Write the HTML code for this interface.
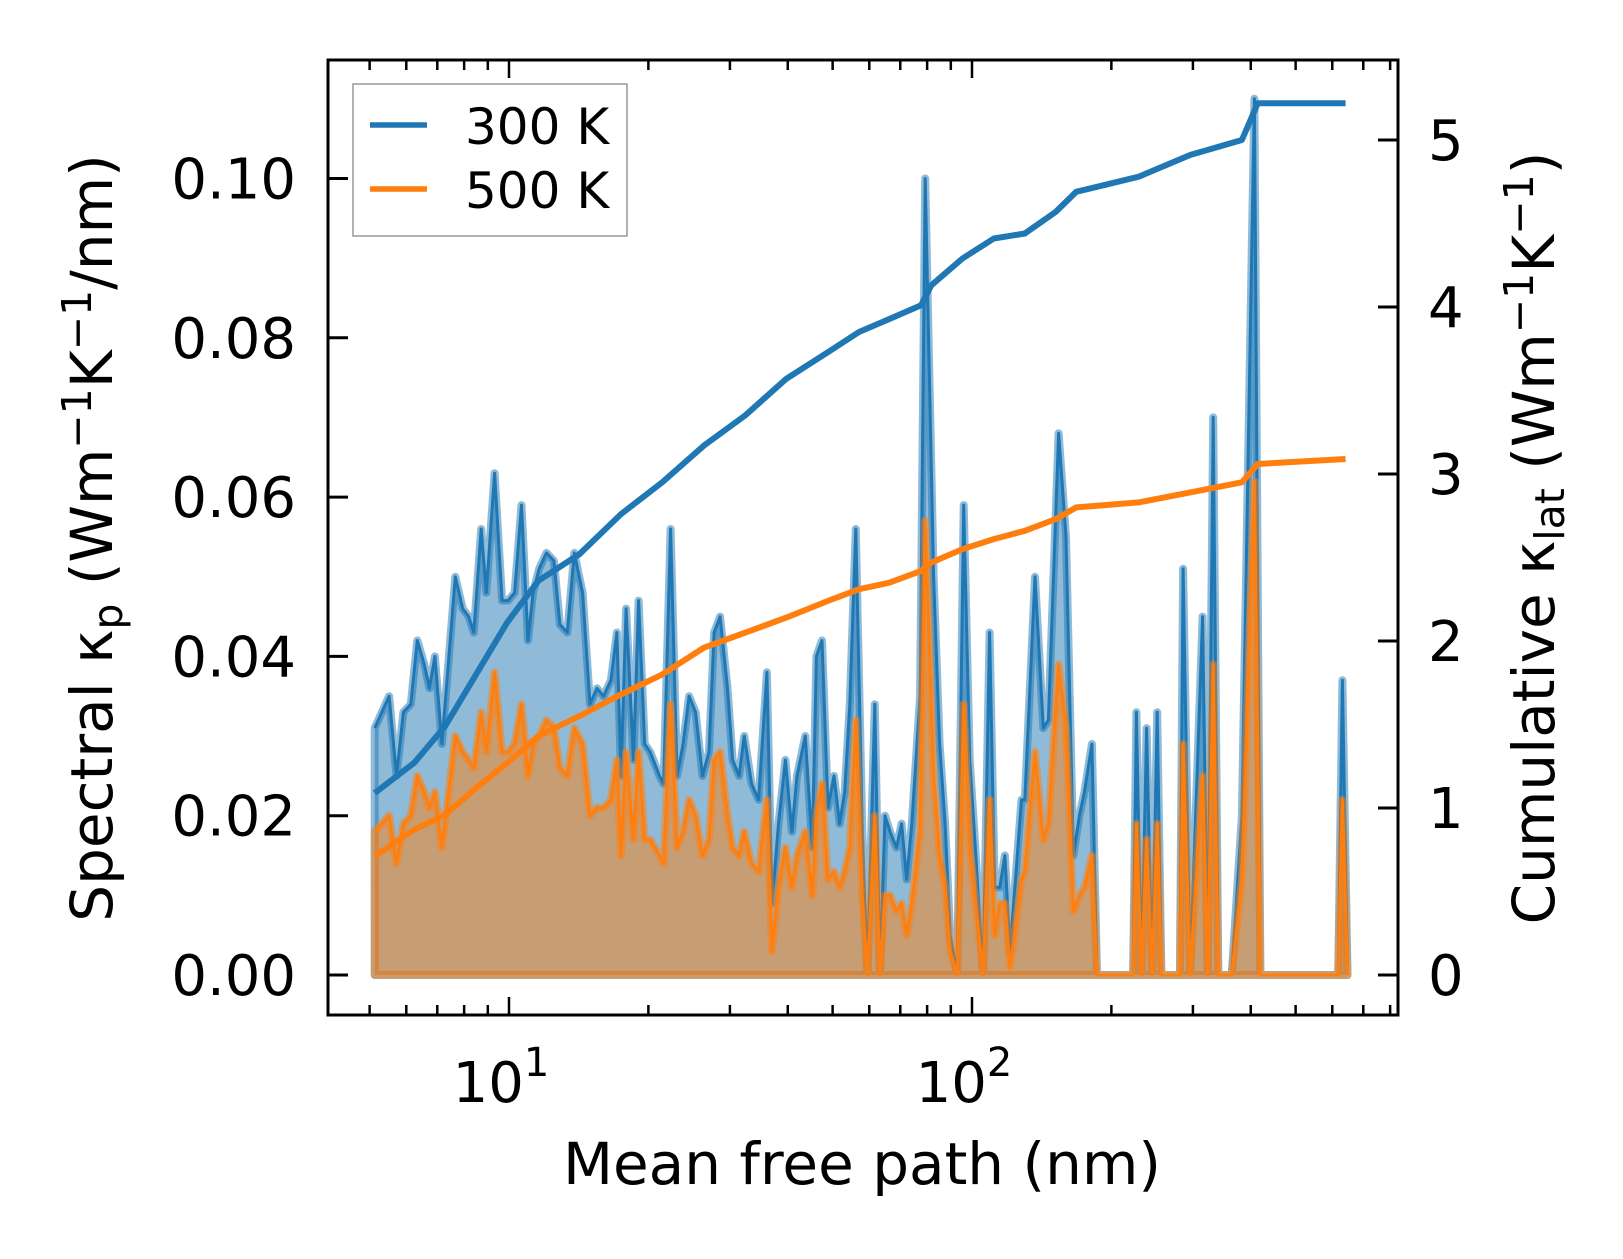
<!DOCTYPE html>
<html><head><meta charset="utf-8"><style>
html,body{margin:0;padding:0;background:#fff}
svg text{font-family:"DejaVu Sans","Liberation Sans",sans-serif;fill:#000}
</style></head><body>
<svg id="chart" width="1623" height="1254" viewBox="0 0 1623 1254" xmlns="http://www.w3.org/2000/svg">
<rect width="1623" height="1254" fill="#fff"/>
<g id="plot"></g>
<g id="axes"></g>
<g>
<rect x="353" y="84" width="274" height="152" fill="#fff" stroke="#999" stroke-width="1.5"/>
<line x1="370" y1="125" x2="427" y2="125" stroke="#1f77b4" stroke-width="5.5"/>
<text x="465" y="144" font-size="50">300 K</text>
<line x1="370" y1="189" x2="427" y2="189" stroke="#ff7f0e" stroke-width="5.5"/>
<text x="465" y="208" font-size="50">500 K</text>
</g>
<text x="862" y="1184" font-size="58" text-anchor="middle">Mean free path (nm)</text>
<text transform="translate(112,538) rotate(-90)" font-size="58" text-anchor="middle">Spectral κ<tspan font-size="41" dy="10">p</tspan><tspan dy="-10"> (Wm</tspan><tspan font-size="41" dy="-21">−1</tspan><tspan dy="21">K</tspan><tspan font-size="41" dy="-21">−1</tspan><tspan dy="21">/nm)</tspan></text>
<text transform="translate(1554,538) rotate(-90)" font-size="58" text-anchor="middle">Cumulative κ<tspan font-size="41" dy="10">lat</tspan><tspan dy="-10"> (Wm</tspan><tspan font-size="41" dy="-21">−1</tspan><tspan dy="21">K</tspan><tspan font-size="41" dy="-21">−1</tspan><tspan dy="21">)</tspan></text>
</svg>
<script>
// log10 of mean free path (nm) for spectral samples
const specLogMfp = [0.710,0.741,0.757,0.772,0.788,0.802,0.817,0.828,0.840,0.855,0.884,0.900,0.913,0.924,0.940,0.951,0.969,0.985,0.998,1.012,1.027,1.041,1.052,1.065,1.081,1.097,1.110,1.126,1.141,1.159,1.175,1.190,1.204,1.220,1.233,1.242,1.253,1.269,1.280,1.293,1.305,1.325,1.334,1.349,1.363,1.376,1.389,1.403,1.418,1.432,1.443,1.456,1.472,1.483,1.497,1.508,1.524,1.539,1.557,1.568,1.582,1.597,1.611,1.622,1.640,1.655,1.664,1.676,1.689,1.702,1.714,1.725,1.736,1.749,1.763,1.774,1.790,1.801,1.812,1.823,1.837,1.848,1.859,1.870,1.888,1.899,1.917,1.930,1.942,1.953,1.968,1.982,1.995,2.006,2.024,2.038,2.049,2.060,2.071,2.082,2.094,2.107,2.114,2.136,2.154,2.165,2.187,2.203,2.219,2.232,2.243,2.259,2.270,2.348,2.355,2.366,2.377,2.389,2.400,2.409,2.449,2.456,2.471,2.498,2.509,2.521,2.532,2.561,2.583,2.610,2.623,2.791,2.800,2.811];
const spec300 = [0.031,0.035,0.025,0.033,0.034,0.042,0.039,0.036,0.040,0.029,0.050,0.046,0.045,0.043,0.056,0.048,0.063,0.047,0.047,0.048,0.059,0.042,0.048,0.051,0.053,0.052,0.044,0.043,0.053,0.048,0.034,0.036,0.035,0.037,0.043,0.025,0.046,0.027,0.047,0.029,0.028,0.025,0.024,0.056,0.025,0.029,0.035,0.033,0.025,0.028,0.043,0.045,0.036,0.027,0.025,0.030,0.024,0.022,0.038,0.009,0.019,0.027,0.018,0.025,0.030,0.016,0.040,0.042,0.021,0.025,0.019,0.023,0.034,0.056,0.018,0.0,0.034,0.0,0.020,0.018,0.016,0.019,0.012,0.019,0.035,0.100,0.050,0.029,0.019,0.005,0.0,0.059,0.027,0.017,0.0,0.043,0.011,0.011,0.015,0.003,0.012,0.022,0.022,0.050,0.031,0.032,0.068,0.055,0.015,0.020,0.023,0.029,0.0,0.0,0.033,0.0,0.031,0.0,0.033,0.0,0.0,0.051,0.0,0.045,0.0,0.070,0.0,0.0,0.020,0.110,0.0,0.0,0.037,0.0];
const spec500 = [0.018,0.020,0.014,0.019,0.020,0.025,0.023,0.021,0.023,0.016,0.030,0.028,0.027,0.026,0.033,0.028,0.038,0.028,0.028,0.029,0.034,0.025,0.029,0.030,0.032,0.031,0.026,0.025,0.031,0.029,0.020,0.021,0.021,0.022,0.027,0.015,0.028,0.017,0.028,0.017,0.017,0.015,0.014,0.034,0.016,0.018,0.022,0.020,0.015,0.017,0.027,0.028,0.020,0.016,0.015,0.018,0.014,0.013,0.022,0.003,0.011,0.016,0.011,0.015,0.018,0.010,0.020,0.024,0.012,0.013,0.011,0.013,0.016,0.032,0.010,0.0,0.020,0.0,0.010,0.010,0.008,0.009,0.005,0.009,0.018,0.057,0.025,0.015,0.011,0.003,0.0,0.034,0.016,0.010,0.0,0.022,0.005,0.009,0.009,0.001,0.006,0.012,0.013,0.028,0.017,0.019,0.039,0.031,0.008,0.010,0.011,0.015,0.0,0.0,0.019,0.0,0.017,0.0,0.019,0.0,0.0,0.029,0.0,0.025,0.0,0.039,0.0,0.0,0.012,0.062,0.0,0.0,0.022,0.0];
// cumulative
const cumLogMfp = [0.710,0.795,0.862,0.929,0.996,1.063,1.152,1.242,1.331,1.421,1.510,1.599,1.689,1.756,1.823,1.890,1.912,1.979,2.047,2.114,2.181,2.225,2.270,2.360,2.471,2.583,2.617,2.807];
const cum300 = [1.09,1.27,1.49,1.80,2.11,2.36,2.52,2.76,2.95,3.17,3.35,3.57,3.73,3.85,3.93,4.01,4.13,4.29,4.41,4.44,4.57,4.69,4.72,4.78,4.91,5.00,5.22,5.22];
const cum500 = [0.71,0.87,0.96,1.12,1.27,1.43,1.55,1.68,1.80,1.96,2.05,2.14,2.24,2.31,2.35,2.42,2.47,2.55,2.61,2.66,2.73,2.80,2.81,2.83,2.89,2.95,3.06,3.09];
const leftTicks = [0,0.02,0.04,0.06,0.08,0.10];
const leftTickLabels = ["0.00","0.02","0.04","0.06","0.08","0.10"];
const rightTicks = [0,1,2,3,4,5];
const xMajor = [1,2];

const NS="http://www.w3.org/2000/svg";
const L=328,R=1398,T=60,B=1015;
const X=lg=>509+463*(lg-1);
const YL=v=>975-v/0.02*159.3;
const YR=v=>975-v*167;
function mk(tag,attrs,parent){const e=document.createElementNS(NS,tag);for(const k in attrs)e.setAttribute(k,attrs[k]);parent.appendChild(e);return e;}
const plot=document.getElementById('plot'), axes=document.getElementById('axes');

function series(vals,color,name){
  let d='M'+X(specLogMfp[0])+','+YL(0);
  specLogMfp.forEach((lg,i)=>{d+=' L'+X(lg).toFixed(1)+','+YL(vals[i]).toFixed(1);});
  d+=' L'+X(specLogMfp[specLogMfp.length-1])+','+YL(0)+' Z';
  const f=mk('path',{d:d,fill:color,'fill-opacity':0.5,stroke:color,'stroke-opacity':0.5,'stroke-width':8,'stroke-linejoin':'round'},plot);
  
  
  let d2='';
  specLogMfp.forEach((lg,i)=>{d2+=(i?' L':'M')+X(lg).toFixed(1)+','+YL(vals[i]).toFixed(1);});
  const l=mk('path',{d:d2,fill:'none',stroke:color,'stroke-width':3,'stroke-linejoin':'round'},plot);
  
  
}
series(spec300,'#1f77b4','spectral-300k');
series(spec500,'#ff7f0e','spectral-500k');
function cum(vals,color,name){
  let d='';
  cumLogMfp.forEach((lg,i)=>{d+=(i?' L':'M')+X(lg).toFixed(1)+','+YR(vals[i]).toFixed(1);});
  const l=mk('path',{d:d,fill:'none',stroke:color,'stroke-width':6,'stroke-linejoin':'round'},plot);
  
  
}
cum(cum300,'#1f77b4','cumulative-300k');
cum(cum500,'#ff7f0e','cumulative-500k');

// frame
const fr=mk('rect',{x:L,y:T,width:R-L,height:B-T,fill:'none',stroke:'#000','stroke-width':3},axes);


// x ticks
for(let dec=0;dec<3;dec++){
  for(let m=1;m<10;m++){
    const lg=dec+Math.log10(m);
    const px=X(lg); if(px<L||px>R) continue;
    const len=m===1?18:10;
    const t1=mk('line',{x1:px,y1:B,x2:px,y2:B-len,stroke:'#000','stroke-width':2.5},axes);
    
    
    const t2=mk('line',{x1:px,y1:T,x2:px,y2:T+len,stroke:'#000','stroke-width':2.5},axes);
    
    
  }
}
xMajor.forEach(p=>{
  const t=mk('text',{x:X(p)-8,y:1102,'font-size':56,'text-anchor':'middle'},axes);
  
  
  t.innerHTML='10<tspan font-size="40" dy="-26">'+p+'</tspan>';
});
leftTicks.forEach((v,i)=>{
  const y=YL(v);
  const l=mk('line',{x1:L,y1:y,x2:L+20,y2:y,stroke:'#000','stroke-width':3},axes);
  
  
  const t=mk('text',{x:296,y:y+20,'font-size':56,'text-anchor':'end'},axes);
  
  
  t.textContent=leftTickLabels[i];
});
rightTicks.forEach(v=>{
  const y=YR(v);
  const l=mk('line',{x1:R,y1:y,x2:R-20,y2:y,stroke:'#000','stroke-width':3},axes);
  
  
  const t=mk('text',{x:1428,y:y+20,'font-size':56},axes);
  
  
  t.textContent=String(v);
});
</script>
</body></html>
